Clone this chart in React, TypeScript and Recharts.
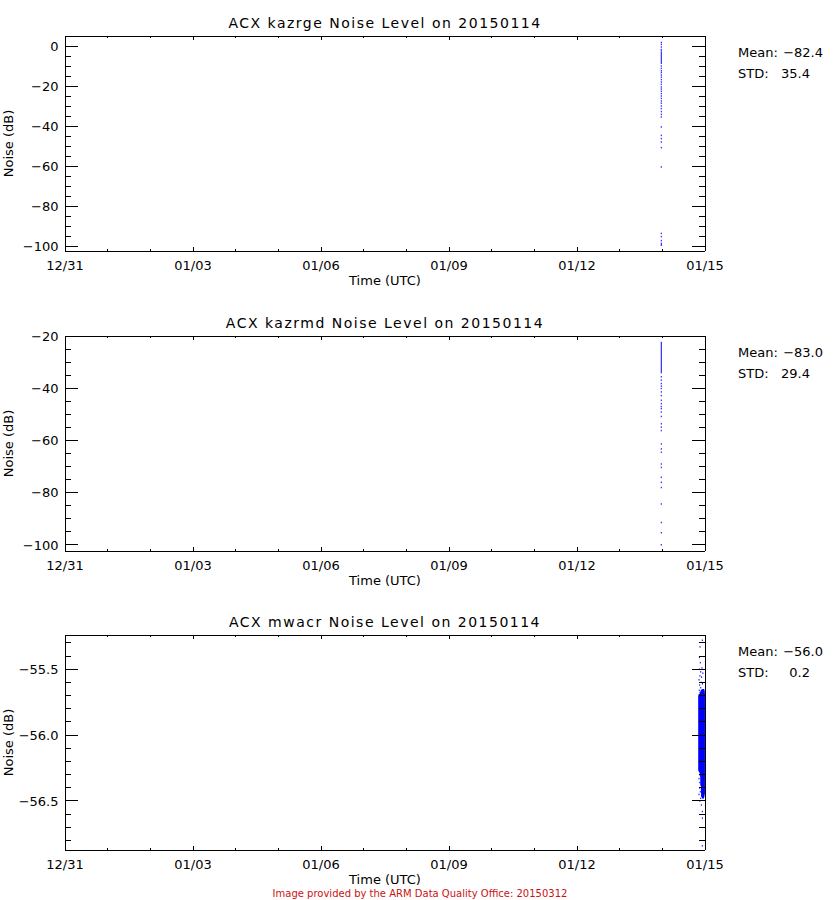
import React from 'react';
import { ComposedChart, Scatter, XAxis, YAxis } from 'recharts';

const FONT = '"DejaVu Sans", sans-serif';
const BLUE = '#0000ff';

// shared time axis (days since 12/31 00:00 UTC)
const dayTicks = [0, 1, 2, 3, 4, 5, 6, 7, 8, 9, 10, 11, 12, 13, 14, 15];
const dayMajors = [0, 3, 6, 9, 12, 15];
const dayLabels = ['12/31', '01/03', '01/06', '01/09', '01/12', '01/15'];

// ---- kazrge ----
const kazrgeTitle = 'ACX kazrge Noise Level on 20150114';
const kazrgeTime = 13.975;
const kazrgeDots = [1.8, 0.8, -0.5, -1.8, -2.5, -10, -11.2, -12.4, -13.3, -14.5, -15.6, -16.8, -18, -19.2, -20.5, -21.5, -22.6, -23.8, -25, -26.2, -27.5, -28.6, -30, -31.3, -32.8, -34.2, -35.5, -40.5, -44.7, -46.3, -48, -50.8, -60.5, -93.7, -95.3, -97.3];
const kazrgeRuns = [[-3.0, -9.0], [-98.3, -100.0]];
const kazrgeDomain = [-102.5, 5];
const kazrgeTicks = [-100, -95, -90, -85, -80, -75, -70, -65, -60, -55, -50, -45, -40, -35, -30, -25, -20, -15, -10, -5, 0];
const kazrgeMajors = [-100, -80, -60, -40, -20, 0];
const kazrgeLabels = ['\u2212100', '\u221280', '\u221260', '\u221240', '\u221220', '0'];
const kazrgeStats = ['\u221282.4', '35.4'];

// ---- kazrmd ----
const kazrmdTitle = 'ACX kazrmd Noise Level on 20150114';
const kazrmdTime = 13.975;
const kazrmdDots = [-35.6, -36.9, -38.2, -39.2, -40.1, -41.4, -42.8, -44.6, -45.9, -47.0, -47.8, -49.1, -50.8, -53.6, -54.9, -56.2, -61.3, -63.2, -64.5, -69, -70.3, -74.1, -76, -78, -84.3, -91.4, -95.3];
const kazrmdRuns = [[-22.2, -34.3], [-99.6, -100.2]];
const kazrmdDomain = [-102.3, -20];
const kazrmdTicks = [-100, -95, -90, -85, -80, -75, -70, -65, -60, -55, -50, -45, -40, -35, -30, -25, -20];
const kazrmdMajors = [-100, -80, -60, -40, -20];
const kazrmdLabels = ['\u2212100', '\u221280', '\u221260', '\u221240', '\u221220'];
const kazrmdStats = ['\u221283.0', '29.4'];

// ---- mwacr ----
const mwacrTitle = 'ACX mwacr Noise Level on 20150114';
const mwacrCoreT = [14.856, 14.86, 14.864, 14.868, 14.872, 14.876, 14.88, 14.884, 14.888, 14.892, 14.896, 14.9, 14.904, 14.908, 14.912, 14.916, 14.92, 14.924, 14.928, 14.932, 14.936, 14.94, 14.944, 14.948, 14.952, 14.956, 14.96, 14.964, 14.968, 14.972, 14.976, 14.98, 14.983];
const mwacrCoreV = [-55.7, -56.27, -55.69, -56.28, -55.7, -56.27, -55.69, -56.29, -55.7, -56.28, -55.68, -56.3, -55.67, -56.38, -55.66, -56.42, -55.67, -56.45, -55.66, -56.47, -55.65, -56.48, -55.66, -56.47, -55.65, -56.46, -55.66, -56.48, -55.65, -56.47, -55.66, -56.45, -55.68];
const mwacrDotT = [14.937, 14.883, 14.87, 14.89, 14.93, 14.87, 14.9, 14.95, 14.88, 14.92, 14.86, 14.91, 14.94, 14.875, 14.9, 14.865, 14.95, 14.88, 14.87, 14.9, 14.86, 14.93, 14.88, 14.91, 14.87, 14.95, 14.89, 14.86, 14.92, 14.9, 14.88, 14.915, 14.937, 14.937, 14.937];
const mwacrDotV = [-55.28, -55.33, -55.41, -55.45, -55.49, -55.5, -55.52, -55.53, -55.55, -55.56, -55.58, -55.6, -55.61, -55.62, -55.64, -55.66, -55.67, -55.68, -56.3, -56.31, -56.33, -56.34, -56.36, -56.38, -56.4, -56.41, -56.43, -56.45, -56.46, -56.48, -56.5, -56.53, -56.58, -56.63, -56.84];
const mwacrDomain = [-56.872, -55.24];
const mwacrTicks = [-56.8, -56.7, -56.6, -56.5, -56.4, -56.3, -56.2, -56.1, -56.0, -55.9, -55.8, -55.7, -55.6, -55.5, -55.4, -55.3];
const mwacrMajors = [-56.5, -56.0, -55.5];
const mwacrLabels = ['\u221256.5', '\u221256.0', '\u221255.5'];
const mwacrStats = ['\u221256.0', '0.2'];

type Pt = { t: number; v: number };

const dotShape = (p: any) => (
  <rect x={p.cx - 0.5} y={p.cy - 0.75} width={1} height={1.5} fill={BLUE} />
);
const noShape = () => <g />;

function bottomTick(p: any) {
  const { x, y, payload } = p;
  const i = dayMajors.indexOf(payload.value);
  return (
    <g>
      <line x1={x} x2={x} y1={y} y2={y - (i >= 0 ? 4.3 : 2.2)} stroke="#000" shapeRendering="crispEdges" />
      {i >= 0 && (
        <text x={x} y={y + 18.5} textAnchor="middle" fontSize={13} fontFamily={FONT} fill="#000">
          {dayLabels[i]}
        </text>
      )}
    </g>
  );
}
function topTick(p: any) {
  const { x, y, payload } = p;
  const major = dayMajors.indexOf(payload.value) >= 0;
  return <line x1={x} x2={x} y1={y} y2={y + (major ? 4.3 : 2.2)} stroke="#000" shapeRendering="crispEdges" />;
}
function makeLeftTick(majors: number[], labels: string[]) {
  return (p: any) => {
    const { x, y, payload } = p;
    const i = majors.indexOf(payload.value);
    return (
      <g>
        <line x1={x} x2={x + (i >= 0 ? 12.8 : 6.4)} y1={y} y2={y} stroke="#000" shapeRendering="crispEdges" />
        {i >= 0 && (
          <text x={x - 6.5} y={y + 4.7} textAnchor="end" fontSize={13} fontFamily={FONT} fill="#000">
            {labels[i]}
          </text>
        )}
      </g>
    );
  };
}
function makeRightTick(majors: number[]) {
  return (p: any) => {
    const { x, y, payload } = p;
    const major = majors.indexOf(payload.value) >= 0;
    return <line x1={x} x2={x - (major ? 12.8 : 6.4)} y1={y} y2={y} stroke="#000" shapeRendering="crispEdges" />;
  };
}

type PanelProps = {
  top: number;
  plotTop: number;
  plotBottom: number;
  title: string;
  dots: Pt[];
  runs: Pt[][];
  domain: number[];
  ticks: number[];
  majors: number[];
  labels: string[];
  stats: string[];
};

const W = 840;
const H = 300;
const PLOT_L = 65;
const PLOT_R = 705;

function Panel(props: PanelProps) {
  const { top, plotTop, plotBottom, title, dots, runs, domain, ticks, majors, labels, stats } = props;
  const axisLine = { stroke: '#000', strokeWidth: 1, shapeRendering: 'crispEdges' } as any;
  const margin = { top: plotTop - 1, bottom: H - plotBottom - 30, left: PLOT_L - 60, right: W - PLOT_R - 1 };
  const cx = (PLOT_L + PLOT_R) / 2;
  return (
    <div style={{ position: 'absolute', left: 0, top, width: W, height: H }}>
      <ComposedChart width={W} height={H} margin={margin}>
        <XAxis xAxisId={0} dataKey="t" type="number" domain={[0, 15]} allowDataOverflow ticks={dayTicks} interval={0}
          tickSize={0} tickMargin={0} tick={bottomTick} axisLine={axisLine} tickLine={false} height={30} />
        <XAxis xAxisId="top" orientation="top" dataKey="t" type="number" domain={[0, 15]} allowDataOverflow ticks={dayTicks} interval={0}
          tickSize={0} tickMargin={0} tick={topTick} axisLine={axisLine} tickLine={false} height={1} />
        <YAxis yAxisId={0} dataKey="v" type="number" domain={domain} allowDataOverflow ticks={ticks} interval={0}
          tickSize={0} tickMargin={0} tick={makeLeftTick(majors, labels)} axisLine={axisLine} tickLine={false} width={60} />
        <YAxis yAxisId="right" orientation="right" dataKey="v" type="number" domain={domain} allowDataOverflow ticks={ticks} interval={0}
          tickSize={0} tickMargin={0} tick={makeRightTick(majors)} axisLine={axisLine} tickLine={false} width={1} />
        {runs.map((r, i) => (
          <Scatter key={'run' + i} xAxisId={0} yAxisId={0} data={r}
            line={{ stroke: BLUE, strokeWidth: 1, strokeLinejoin: 'bevel' }} lineType="joint"
            shape={noShape} isAnimationActive={false} />
        ))}
        <Scatter xAxisId={0} yAxisId={0} data={dots} shape={dotShape} isAnimationActive={false} />
      </ComposedChart>
      <svg width={W} height={H} style={{ position: 'absolute', left: 0, top: 0, pointerEvents: 'none' }}>
        <text x={cx} y={plotTop - 7.7} textAnchor="middle" fontSize={14} letterSpacing={1.5} fontFamily={FONT} fill="#000">
          {title}
        </text>
        <text x={cx} y={plotBottom + 33.5} textAnchor="middle" fontSize={13} fontFamily={FONT} fill="#000">
          Time (UTC)
        </text>
        <text transform={`translate(13, ${(plotTop + plotBottom) / 2}) rotate(-90)`} textAnchor="middle" fontSize={13}
          fontFamily={FONT} fill="#000">
          Noise (dB)
        </text>
        <text x={738} y={plotTop + 21.4} fontSize={13} fontFamily={FONT} fill="#000">Mean:</text>
        <text x={823} y={plotTop + 21.4} textAnchor="end" fontSize={13} fontFamily={FONT} fill="#000">{stats[0]}</text>
        <text x={738} y={plotTop + 41.5} fontSize={13} fontFamily={FONT} fill="#000">STD:</text>
        <text x={810} y={plotTop + 41.5} textAnchor="end" fontSize={13} fontFamily={FONT} fill="#000">{stats[1]}</text>
      </svg>
    </div>
  );
}

const kazrgeData: Pt[] = kazrgeDots.map((v) => ({ t: kazrgeTime, v }));
const kazrgeRunData: Pt[][] = kazrgeRuns.map((r) => r.map((v) => ({ t: kazrgeTime, v })));
const kazrmdData: Pt[] = kazrmdDots.map((v) => ({ t: kazrmdTime, v }));
const kazrmdRunData: Pt[][] = kazrmdRuns.map((r) => r.map((v) => ({ t: kazrmdTime, v })));
const mwacrCore: Pt[] = mwacrCoreT.map((t, i) => ({ t, v: mwacrCoreV[i] }));
const mwacrData: Pt[] = mwacrDotT.map((t, i) => ({ t, v: mwacrDotV[i] }));

export default function App() {
  return (
    <div style={{ position: 'absolute', left: 0, top: 0, width: 840, height: 900, background: '#fff', fontFamily: FONT }}>
      <Panel top={0} plotTop={36} plotBottom={251} title={kazrgeTitle} dots={kazrgeData} runs={kazrgeRunData}
        domain={kazrgeDomain} ticks={kazrgeTicks} majors={kazrgeMajors} labels={kazrgeLabels} stats={kazrgeStats} />
      <Panel top={300} plotTop={36} plotBottom={251} title={kazrmdTitle} dots={kazrmdData} runs={kazrmdRunData}
        domain={kazrmdDomain} ticks={kazrmdTicks} majors={kazrmdMajors} labels={kazrmdLabels} stats={kazrmdStats} />
      <Panel top={600} plotTop={35} plotBottom={250} title={mwacrTitle} dots={mwacrData} runs={[mwacrCore]}
        domain={mwacrDomain} ticks={mwacrTicks} majors={mwacrMajors} labels={mwacrLabels} stats={mwacrStats} />
      <svg width={840} height={900} style={{ position: 'absolute', left: 0, top: 0, pointerEvents: 'none' }}>
        <text x={420} y={897} textAnchor="middle" fontSize={10} fontFamily={FONT} fill="#cc1111">
          Image provided by the ARM Data Quality Office: 20150312
        </text>
      </svg>
    </div>
  );
}
